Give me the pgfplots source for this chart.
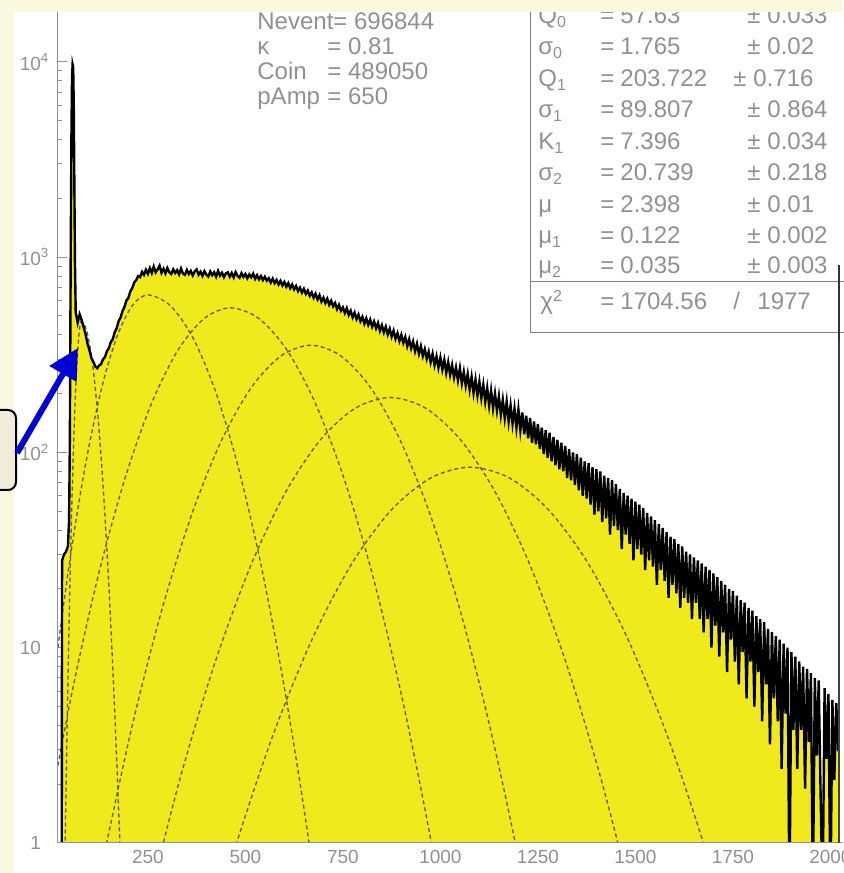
\documentclass[border=0pt]{standalone}
\usepackage{pgfplots}
\pgfplotsset{compat=1.18}
\usepackage{pgfplotstable}
\usepackage{fontspec}
\setmainfont{Liberation Sans}
\usetikzlibrary{arrows.meta}
\definecolor{cream}{RGB}{250,248,222}
\definecolor{hyel}{RGB}{240,233,28}
\definecolor{dashc}{RGB}{95,88,22}
\definecolor{txt}{RGB}{145,145,145}
\definecolor{boxfill}{RGB}{242,237,219}
\definecolor{arrowblue}{RGB}{0,0,210}

\pgfplotstableread[row sep=\\]{
x y\\
29 0.5\\ 30 28\\ 35 30\\ 40 31\\ 45 33\\ 48 45\\ 50 120\\ 52 900\\ 54 4200\\ 55.5 8200\\ 57 9700\\ 58.5 9400\\ 60 6000\\ 61.5 2400\\ 63 950\\
65 520\\ 70 462\\ 75 510\\ 80 478\\ 85 440\\ 90 405\\ 95 362\\ 100 335\\ 105 305\\ 110 292\\ 115 276\\ 120 270\\ 125 279\\ 130 283\\ 135 300\\ 140 308\\
145 330\\ 150 342\\ 155 368\\ 160 380\\ 165 413\\ 170 432\\ 175 470\\ 180 490\\ 185 530\\ 190 556\\ 195 600\\ 200 618\\ 205 668\\ 210 695\\ 215 742\\ 220 762\\
225 800\\ 230 790\\ 235 840\\ 240 812\\ 245 862\\ 250 822\\ 255 878\\ 260 830\\ 265 895\\ 270 836\\ 275 866\\ 280 905\\ 285 832\\ 290 872\\ 295 826\\ 300 880\\
305 836\\ 310 820\\ 315 866\\ 320 830\\ 325 858\\ 330 816\\ 335 874\\ 340 824\\ 345 812\\ 350 860\\ 355 820\\ 360 850\\ 365 806\\ 370 846\\ 375 866\\ 380 812\\
385 842\\ 390 802\\ 395 848\\ 400 814\\ 405 796\\ 410 844\\ 415 808\\ 420 836\\ 425 794\\ 430 850\\ 435 804\\ 440 832\\ 445 790\\ 450 826\\ 455 836\\ 460 794\\
465 830\\ 470 788\\ 475 838\\ 480 802\\ 485 784\\ 490 828\\ 495 792\\ 500 820\\ 505 780\\ 510 816\\ 515 789\\ 520 824\\ 525 774\\ 530 808\\ 535 770\\ 540 800\\
545 764\\ 550 794\\ 555 758\\ 560 780\\ 565 742\\ 570 776\\ 575 736\\ 580 764\\ 585 724\\ 590 756\\ 595 716\\ 600 746\\ 605 706\\ 610 736\\ 615 694\\ 620 724\\
625 684\\ 630 712\\ 635 670\\ 640 698\\ 645 658\\ 650 688\\ 655 648\\ 660 674\\ 665 634\\ 670 660\\ 675 620\\ 680 650\\ 685 608\\ 690 638\\ 695 592\\ 700 620\\
705 582\\ 710 612\\ 715 570\\ 720 598\\ 725 560\\ 730 582\\ 735 542\\ 740 570\\ 745 532\\ 750 553\\ 755 518\\ 760 548\\ 765 506\\ 770 532\\ 775 492\\ 780 520\\
785 482\\ 790 508\\ 795 470\\ 800 494\\ 805 456\\ 810 486\\ 815 450\\ 820 478\\ 825 440\\ 830 468\\ 835 432\\ 840 460\\ 845 420\\ 850 448\\ 855 412\\ 860 440\\
865 402\\ 870 430\\ 875 392\\ 880 420\\ 885 382\\ 890 408\\ 895 372\\ 900 400\\ 905 364\\ 910 390\\ 915 350\\ 920 380\\ 925 342\\ 930 370\\ 935 330\\ 940 360\\
945 320\\ 950 350\\ 955 312\\ 960 338\\ 965 302\\ 970 328\\ 975 290\\ 980 320\\ 985 280\\ 990 310\\ 995 272\\ 1000 306\\ 1005 266\\ 1010 298\\ 1015 256\\ 1020 290\\
1025 250\\ 1030 280\\ 1035 242\\ 1040 272\\ 1045 234\\ 1050 270\\ 1055 226\\ 1060 258\\ 1065 220\\ 1070 252\\ 1075 210\\ 1080 244\\ 1085 202\\ 1090 236\\ 1095 196\\ 1100 230\\
1105 190\\ 1110 222\\ 1115 182\\ 1120 214\\ 1125 174\\ 1130 208\\ 1135 168\\ 1140 200\\ 1145 164\\ 1150 194\\ 1155 156\\ 1160 186\\ 1165 150\\ 1170 182\\ 1175 144\\ 1180 174\\
1185 140\\ 1190 168\\ 1195 134\\ 1200 166\\ 1205 130\\ 1210 160\\ 1215 124\\ 1220 154\\ 1225 118\\ 1230 150\\ 1235 112\\ 1240 144\\ 1245 110\\ 1250 140\\ 1255 104\\ 1260 134\\
1265 98\\ 1270 130\\ 1275 94\\ 1280 126\\ 1285 90\\ 1290 120\\ 1295 86\\ 1300 116\\ 1305 82\\ 1310 112\\ 1315 80\\ 1320 108\\ 1325 74\\ 1330 104\\ 1335 72\\ 1340 100\\
1345 68\\ 1350 98\\ 1355 64\\ 1360 94\\ 1365 60\\ 1370 90\\ 1375 58\\ 1380 88\\ 1385 54\\ 1390 84\\ 1395 48\\ 1400 82\\ 1405 50\\ 1410 80\\ 1415 44\\ 1420 76\\
1425 46\\ 1430 74\\ 1435 38\\ 1440 72\\ 1445 42\\ 1450 69\\ 1455 40\\ 1460 65\\ 1465 32\\ 1470 62\\ 1475 38\\ 1480 60\\ 1485 34\\ 1490 58\\ 1495 28\\ 1500 56\\
1505 32\\ 1510 54\\ 1515 30\\ 1520 52\\ 1525 25\\ 1530 49\\ 1535 28\\ 1540 47\\ 1545 26\\ 1550 45\\ 1555 21\\ 1560 43\\ 1565 25\\ 1570 41\\ 1575 22\\ 1580 39\\
1585 18\\ 1590 37\\ 1595 21\\ 1600 36\\ 1605 19\\ 1610 34\\ 1615 16\\ 1620 33\\ 1625 18\\ 1630 31\\ 1635 17\\ 1640 30\\ 1645 14\\ 1650 29\\ 1655 17\\ 1660 28\\
1665 14\\ 1670 27\\ 1675 12\\ 1680 26\\ 1685 14\\ 1690 25\\ 1695 10\\ 1700 24\\ 1705 13\\ 1710 23\\ 1715 9\\ 1720 22\\ 1725 12\\ 1730 21\\ 1735 7.5\\ 1740 20\\
1745 11\\ 1750 19.5\\ 1755 8.5\\ 1760 18.5\\ 1765 6.5\\ 1770 17.5\\ 1775 9.5\\ 1780 17\\ 1785 5.5\\ 1790 16\\ 1795 8.5\\ 1800 15.5\\ 1805 5\\ 1810 14.5\\ 1815 7.5\\ 1820 14\\
1825 4.2\\ 1830 13.5\\ 1835 6.5\\ 1840 12.5\\ 1845 3.2\\ 1850 12\\ 1855 5.5\\ 1860 11.5\\ 1865 4.2\\ 1870 11\\ 1875 2.4\\ 1880 10.5\\ 1885 4.6\\ 1890 10\\ 1895 0.5\\ 1900 9.5\\
1905 3.8\\ 1910 9\\ 1915 2.4\\ 1920 8.5\\ 1925 3.8\\ 1930 8\\ 1935 1.9\\ 1940 7.8\\ 1945 3.3\\ 1950 7.4\\ 1955 0.5\\ 1960 7\\ 1965 2.8\\ 1970 6.8\\ 1975 1.7\\ 1980 0.5\\
1985 6.2\\ 1990 2.7\\ 1995 5.8\\ 2000 0.5\\ 2005 5.4\\ 2010 2.1\\ 2015 5.2\\ 2020 3\\ 2025 3\\
}\hist

\pgfplotsset{gcomp/.style={dashc, line width=0.65pt, dash pattern=on 2pt off 1.5pt, smooth, mark=none}}

\begin{document}
\begin{tikzpicture}
\path[use as bounding box] (0,0) rectangle (421.5pt,436.5pt);
\begin{scope}[x=0.5pt,y=-0.5pt,yshift=436.5pt]
  \fill[cream] (0,0) rectangle (843,873);
  \fill[white] (14,12) rectangle (843,873);
\end{scope}
\begin{axis}[
  at={(28.5pt,15pt)}, anchor=south west,
  scale only axis, width=391pt, height=415.5pt,
  xmin=17, xmax=2022, ymin=1, ymax=18000, ymode=log,
  axis line style={draw=none},
  tick align=inside, xtick pos=bottom, ytick pos=left,
  major tick length=5pt, minor tick length=2.5pt,
  tick style={draw=txt, line width=0.5pt},
  xtick={250,500,750,1000,1250,1500,1750,2000},
  xticklabels={250,500,750,1000,1250,1500,1750,2000},
  minor x tick num=4,
  ytick={1,10,100,1000,10000},
  yticklabels={1,10,10\rlap{\textsuperscript{2}},10\rlap{\textsuperscript{3}},10\rlap{\textsuperscript{4}}},
  yticklabel style={xshift=-4.5pt},
  ticklabel style={font=\fontsize{9.5}{10}\selectfont, text=txt},
  clip=true,
]
\addplot[fill=hyel, draw=none] table {\hist} \closedcycle;
\addplot[gcomp] coordinates {
(38,1.03)(44,5.22)(50,20.65)(56,63.6)(62,152.6)(68,285.1)(74,414.8)(80,470)(94,414.8)(108,285.1)(122,152.6)(136,63.6)(150,20.65)(164,5.22)(178,1.03)(192,0.157)};
\addplot[gcomp] coordinates {
(-30,1.40)(10,7.11)(50,28.1)(90,86.6)(130,207.8)(170,388.2)(210,564.8)(250,640)(307.5,564.8)(365,388.2)(422.5,207.8)(480,86.6)(537.5,28.1)(595,7.11)(652.5,1.40)(710,0.214)};
\addplot[gcomp] coordinates {
(-10.5,1.20)(57,6.11)(124.5,24.2)(192,74.4)(259.5,178.6)(327,333.6)(394.5,485.4)(462,550)(534.5,485.4)(607,333.6)(679.5,178.6)(752,74.4)(824.5,24.2)(897,6.11)(969.5,1.20)(1042,0.184)};
\addplot[gcomp] coordinates {
(132.5,0.774)(209,3.93)(285.5,15.55)(362,47.9)(438.5,114.9)(515,214.7)(591.5,312.4)(668,354)(744.5,312.4)(821,214.7)(897.5,114.9)(974,47.9)(1050.5,15.55)(1127,3.93)(1203.5,0.774)(1280,0.119)};
\addplot[gcomp] coordinates {
(242,0.418)(332,2.12)(422,8.39)(512,25.84)(602,62.0)(692,115.8)(782,168.6)(872,191)(962,168.6)(1052,115.8)(1142,62.0)(1232,25.84)(1322,8.39)(1412,2.12)(1502,0.418)(1592,0.064)};
\addplot[gcomp] coordinates {
(372.5,0.184)(473,0.933)(573.5,3.69)(674,11.37)(774.5,27.3)(875,50.9)(975.5,74.1)(1076,84)(1176.5,74.1)(1277,50.9)(1377.5,27.3)(1478,11.37)(1578.5,3.69)(1679,0.933)(1779.5,0.184)};
\addplot[black, line width=1.2pt, mark=none] table {\hist};
\end{axis}
\begin{scope}[x=0.5pt,y=-0.5pt,yshift=436.5pt]
  % frame lines
  \draw[txt, line width=0.5pt] (57,12) -- (57,843) -- (843,843);
  \draw[black!75, line width=0.7pt] (839,12) -- (839,843);
  % stats box
  \filldraw[fill=white, draw=black!50, line width=0.5pt] (530,0) rectangle (846,333);
  \draw[black!50, line width=0.5pt] (530,282) -- (846,282);
  \draw[black!80, line width=0.8pt] (839,265) -- (839,340);
  \begin{scope}[every node/.style={anchor=base west, inner sep=0pt, text=txt, font=\fontsize{12}{14}\selectfont}]
    \node at (538,23.5) {Q\textsubscript{0}};  \node at (600,23.5) {=}; \node at (620,23.5) {57.63};   \node at (747,23.5) {±}; \node at (767,23.5) {0.033};
    \node at (538,55) {σ\textsubscript{0}};    \node at (600,55) {=};   \node at (620,55) {1.765};     \node at (747,55) {±};   \node at (767,55) {0.02};
    \node at (538,86.5) {Q\textsubscript{1}};  \node at (600,86.5) {=}; \node at (620,86.5) {203.722}; \node at (733,86.5) {±}; \node at (753,86.5) {0.716};
    \node at (538,118) {σ\textsubscript{1}};   \node at (600,118) {=};  \node at (620,118) {89.807};   \node at (747,118) {±};  \node at (767,118) {0.864};
    \node at (538,149.5) {K\textsubscript{1}}; \node at (600,149.5) {=};\node at (620,149.5) {7.396};  \node at (747,149.5) {±};\node at (767,149.5) {0.034};
    \node at (538,181) {σ\textsubscript{2}};   \node at (600,181) {=};  \node at (620,181) {20.739};   \node at (747,181) {±};  \node at (767,181) {0.218};
    \node at (538,212.5) {μ};                  \node at (600,212.5) {=};\node at (620,212.5) {2.398};  \node at (747,212.5) {±};\node at (767,212.5) {0.01};
    \node at (538,244) {μ\textsubscript{1}};   \node at (600,244) {=};  \node at (620,244) {0.122};    \node at (747,244) {±};  \node at (767,244) {0.002};
    \node at (538,274) {μ\textsubscript{2}};   \node at (600,274) {=};  \node at (620,274) {0.035};    \node at (747,274) {±};  \node at (767,274) {0.003};
    \node at (540,310) {χ\textsuperscript{2}}; \node at (600,310) {=};  \node at (620,310) {1704.56};  \node at (733,310) {/};  \node at (757,310) {1977};
  \end{scope}
  \begin{scope}[every node/.style={anchor=base west, inner sep=0pt, text=txt, font=\fontsize{12}{14}\selectfont}]
    \node at (257,30) {Nevent= 696844};
    \node at (257,55) {κ};    \node at (327,55) {= 0.81};
    \node at (257,80) {Coin}; \node at (327,80) {= 489050};
    \node at (257,105) {pAmp};\node at (327,105) {= 650};
  \end{scope}
  % cream strips on top
  \fill[cream] (0,0) rectangle (843,12);
  \fill[cream] (0,0) rectangle (14,873);
  % callout
  \filldraw[fill=boxfill, draw=black, line width=1pt, rounded corners=4pt] (-40,410) rectangle (16,490);
  \draw[arrowblue, line width=3pt, -{Triangle[length=15pt,width=15pt]}] (17,453) -- (78,348);
\end{scope}
\end{tikzpicture}
\end{document}
